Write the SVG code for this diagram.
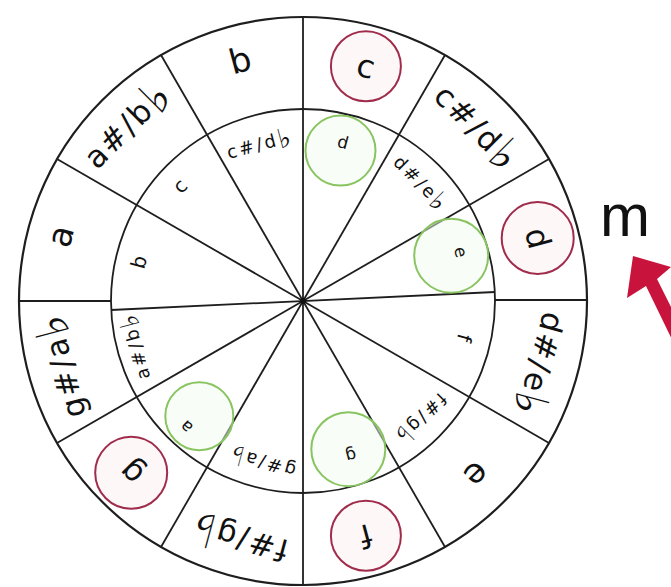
<svg xmlns="http://www.w3.org/2000/svg" width="671" height="587" viewBox="0 0 671 587">
<style>
.ln{stroke:#1e1e1e;stroke-width:1.8;fill:none}
.ring{stroke:#1e1e1e;stroke-width:2.2;fill:none}
.t{font-family:"DejaVu Sans",sans-serif;fill:#111;text-anchor:middle;dominant-baseline:central}
.o1{font-size:34px}
.o2{font-size:31px;letter-spacing:2px}
.i1{font-size:20px}
.i2{font-size:18px;letter-spacing:2.5px}
.g1{font-size:17px}
.r1{font-size:32px}
.fl{font-size:1.5em}
.red{stroke:#a02c4c;stroke-width:2;fill:#fdf1f4;fill-opacity:0.6}
.grn{stroke:#88c460;stroke-width:2;fill:#f4fbef;fill-opacity:0.5}
</style>
<rect width="671" height="587" fill="#ffffff"/>
<g id="wheel">
<circle class="ring" cx="303" cy="301" r="284"/>
<circle class="ln" cx="303" cy="301" r="192"/>
</g>
<g id="connectors">
<line class="ln" x1="303" y1="17" x2="303" y2="585"/>
<line class="ln" x1="445" y1="55" x2="161" y2="547"/>
<line class="ln" x1="549" y1="159" x2="57" y2="443"/>
<line class="ln" x1="549" y1="443" x2="57" y2="159"/>
<line class="ln" x1="445" y1="547" x2="161" y2="55"/>
<line class="ln" x1="19" y1="301" x2="111" y2="301"/>
<line class="ln" x1="495" y1="300" x2="587" y2="300"/>
<line class="ln" x1="111" y1="310" x2="495" y2="292"/>
<circle cx="303" cy="301" r="3" fill="#111"/>
</g>
<g id="red-circles">
<circle class="red" cx="365.9" cy="66.3" r="35"/>
<circle class="red" cx="537.7" cy="238.1" r="36"/>
<circle class="red" cx="365.9" cy="535.7" r="35"/>
<circle class="red" cx="131.2" cy="472.8" r="36"/>
</g>
<g id="green-circles">
<circle class="grn" cx="340.5" cy="150.6" r="35"/>
<circle class="grn" cx="451.2" cy="255.7" r="37"/>
<circle class="grn" cx="348.3" cy="449.2" r="37"/>
<circle class="grn" cx="199.3" cy="416.2" r="34"/>
</g>
<g id="outer-labels">
<text class="t r1" transform="translate(365.9,66.3) rotate(15)">c</text>
<text class="t o2" transform="translate(477,127) rotate(45)">c#/d<tspan class="fl">♭</tspan></text>
<text class="t r1" transform="translate(537.7,238.1) rotate(75)">d</text>
<text class="t o2" transform="translate(540.6,364.7) rotate(105)">d#/e<tspan class="fl">♭</tspan></text>
<text class="t o1" transform="translate(477,475) rotate(135)">e</text>
<text class="t r1" transform="translate(365.9,535.7) rotate(165)">f</text>
<text class="t o2" transform="translate(239.3,538.6) rotate(195)">f#/g<tspan class="fl">♭</tspan></text>
<text class="t r1" transform="translate(131.2,472.8) rotate(225)">g</text>
<text class="t o2" transform="translate(62,365.6) rotate(255)">g#/a<tspan class="fl">♭</tspan></text>
<text class="t o1" transform="translate(60,236) rotate(285)">a</text>
<text class="t o2" transform="translate(127,125) rotate(315)">a#/b<tspan class="fl">♭</tspan></text>
<text class="t o1" transform="translate(240,60) rotate(345)">b</text>
</g>
<g id="inner-labels">
<text class="t g1" transform="translate(343,142) rotate(15)">d</text>
<text class="t i2" transform="translate(421.1,182.9) rotate(45)">d#/e<tspan class="fl">♭</tspan></text>
<text class="t g1" transform="translate(461,252) rotate(75)">e</text>
<text class="t i1" transform="translate(464.3,338) rotate(105)">f</text>
<text class="t i2" transform="translate(421.1,419.1) rotate(135)">f#/g<tspan class="fl">♭</tspan></text>
<text class="t g1" transform="translate(351,456) rotate(165)">g</text>
<text class="t i2" transform="translate(262,462.3) rotate(195)">g#/a<tspan class="fl">♭</tspan></text>
<text class="t g1" transform="translate(186,427) rotate(225)">a</text>
<text class="t i2" transform="translate(135,346) rotate(255)">a#/b<tspan class="fl">♭</tspan></text>
<text class="t i1" transform="translate(139,262) rotate(285)">b</text>
<text class="t i1" transform="translate(180,186) rotate(315)">c</text>
<text class="t i2" transform="translate(259.8,144) rotate(345)">c#/d<tspan class="fl">♭</tspan></text>
</g>
<g id="mode-label">
<text x="600" y="236" font-family="Liberation Sans, Arial, sans-serif" font-size="60" fill="#111">m</text>
</g>
<g id="arrow">
<polygon points="633,256 671,267 657,279 690,345 678,352 646,286 627,298" fill="#c8143c"/>
</g>
</svg>
